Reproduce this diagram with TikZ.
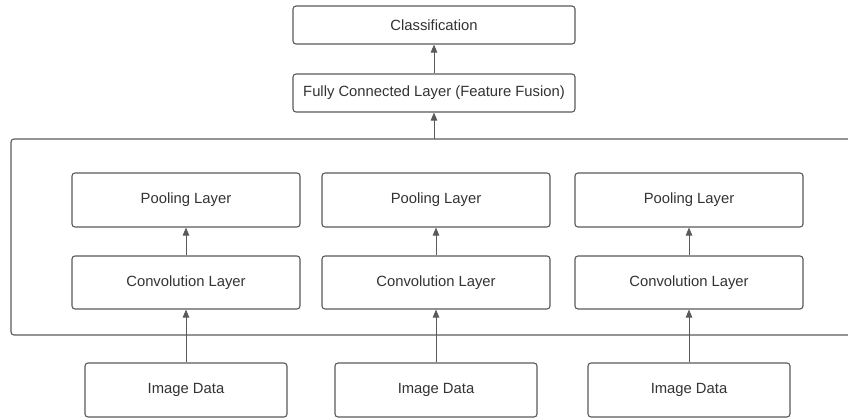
\documentclass[tikz,border=0pt]{standalone}
\usepackage{fontspec}
\setmainfont{Liberation Sans}
\usetikzlibrary{arrows.meta}
\definecolor{linegray}{HTML}{5A5A5A}
\definecolor{textgray}{HTML}{333333}
\tikzset{
 layerbox/.style={draw=linegray, line width=1.1pt, rounded corners=3pt, fill=white,
   text=textgray, font=\fontsize{14.8}{17}\selectfont, inner sep=0pt},
 flow/.style={draw=linegray, line width=0.9pt, -{Triangle[length=8pt,width=6.5pt]}}
}
\begin{document}
\begin{tikzpicture}[x=1pt,y=-1pt]
\useasboundingbox (0,0) rectangle (848,419);
% outer frame round the three branches
\draw[linegray, line width=1.1pt, rounded corners=3pt] (11,139) rectangle (856,335);
\coordinate (frametop) at (434,139);
\node[layerbox, minimum width=282pt, minimum height=38pt] (cls) at (434,25) {Classification};
\node[layerbox, minimum width=282pt, minimum height=38pt] (fc) at (434,93) {Fully Connected Layer (Feature Fusion)};
\foreach \x/\i in {186/1, 436/2, 689/3} {
 \node[layerbox, minimum width=228pt, minimum height=54pt] (pool\i) at (\x,200) {Pooling Layer};
 \node[layerbox, minimum width=228pt, minimum height=53pt] (conv\i) at (\x,282.5) {Convolution Layer};
 \node[layerbox, minimum width=202pt, minimum height=54pt] (img\i) at (\x,390) {Image Data};
 \draw[flow] (img\i) -- (conv\i);
 \draw[flow] (conv\i) -- (pool\i);
}
\draw[flow] (frametop) -- (fc);
\draw[flow] (fc) -- (cls);
\end{tikzpicture}
\end{document}
